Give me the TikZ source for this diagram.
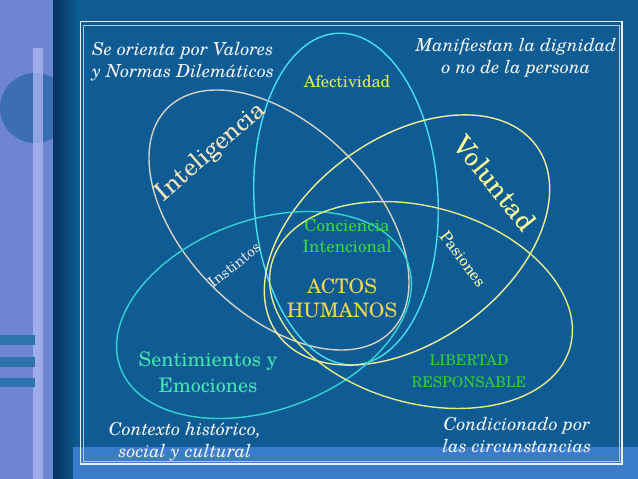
\documentclass[tikz,border=0pt]{standalone}
\usepackage{fontspec}
\setmainfont{TeX Gyre Schola}
\definecolor{mainblue}{HTML}{0F5C94}
\definecolor{stripcol}{HTML}{6E86D2}
\definecolor{circcol}{HTML}{3C6EB4}
\definecolor{barcol}{HTML}{B4BDF5}
\definecolor{tabcol}{HTML}{3C73B4}
\definecolor{smallbar}{HTML}{2E72AE}
\definecolor{darkband}{HTML}{06335C}
\definecolor{bandcol}{HTML}{3A7CCB}
\definecolor{frameout}{HTML}{E8F2FA}
\definecolor{framein}{HTML}{A8CCEB}
\definecolor{grayline}{HTML}{D8D2C4}
\definecolor{cyanline}{HTML}{45E0F0}
\definecolor{tealline}{HTML}{33D2D6}
\definecolor{volline}{HTML}{F0F095}
\definecolor{libline}{HTML}{E6EC88}
\definecolor{intcol}{HTML}{F3E4C0}
\definecolor{volcol}{HTML}{FFFF99}
\definecolor{afecol}{HTML}{E4EE50}
\definecolor{instcol}{HTML}{E2E2E2}
\definecolor{pascol}{HTML}{FFFFA6}
\definecolor{concol}{HTML}{3AD83A}
\definecolor{actcol}{HTML}{EED452}
\definecolor{sencol}{HTML}{45E2B2}
\definecolor{libcol}{HTML}{35CC35}
\definecolor{notecol}{HTML}{F4F4F4}
\begin{document}
\begin{tikzpicture}[x=1pt,y=-1pt,
  ell/.style={line width=1.4pt},
  lbl/.style={inner sep=0pt, align=center},
  note/.style={lbl, text=notecol, font=\fontsize{18}{22}\selectfont\itshape}]
\useasboundingbox (0,0) rectangle (638,479);
% background
\fill[mainblue] (0,0) rectangle (638,479);
\fill[stripcol] (0,0) rectangle (53,479);
\begin{scope}
  \clip (0,0) rectangle (53,479);
  \fill[circcol] (35,108) circle (35);
\end{scope}
\fill[barcol, opacity=0.7] (33,48) rectangle (43,479);
\fill[tabcol] (53,103) rectangle (68,112);
\fill[smallbar] (0,335) rectangle (35,345);
\fill[smallbar] (0,357) rectangle (35,367);
\fill[smallbar] (0,378) rectangle (35,387);
\shade[left color=darkband, right color=mainblue] (53,0) rectangle (78,479);
\fill[bandcol] (73,447) rectangle (638,479);
\draw[frameout, line width=1.3pt] (80.5,21.7) rectangle (622,464);
\draw[framein, line width=1pt] (83.5,25) rectangle (619.5,461.5);
% ellipses
\draw[ell, grayline] (279,220) ellipse [x radius=158, y radius=94, rotate=-45];
\draw[ell, cyanline] (346,199) ellipse [x radius=92, y radius=166, rotate=3];
\draw[ell, volline] (407,240) ellipse [x radius=160, y radius=102, rotate=36];
\draw[ell, tealline] (264,315) ellipse [x radius=153, y radius=95, rotate=20];
\draw[ell, libline] (421,305) ellipse [x radius=155, y radius=98, rotate=-16];
% notes
\node[note, anchor=west, align=left] (valores) at (92,62) {Se orienta por Valores\\y Normas Dilemáticos};
\node[note] (dignidad) at (516,58) {Manifiestan la dignidad\\o no de la persona};
\node[note] (contexto) at (185,442) {Contexto histórico,\\social y cultural};
\node[note] (condicion) at (517,435) {Condicionado por\\las circunstancias};
% labels
\node[lbl, text=afecol, font=\fontsize{16.5}{20}\selectfont] (afect) at (347,82) {Afectividad};
\node[lbl, text=intcol, font=\fontsize{25}{30}\selectfont, rotate=41] (intel) at (211,152) {Inteligencia};
\node[lbl, text=volcol, font=\fontsize{27}{32}\selectfont, rotate=-51] (volun) at (495,183) {Voluntad};
\node[lbl, text=instcol, font=\fontsize{15}{18}\selectfont, rotate=39] (instin) at (234,265) {Instintos};
\node[lbl, text=pascol, font=\fontsize{16}{19}\selectfont, rotate=-53] (pasion) at (463,259) {Pasiones};
\node[lbl, text=concol, font=\fontsize{17}{21}\selectfont] (concie) at (347,236) {Conciencia\\Intencional};
\node[lbl, text=actcol, font=\fontsize{20}{24}\selectfont] (actos) at (342,298) {ACTOS\\HUMANOS};
\node[lbl, text=sencol, font=\fontsize{20}{26}\selectfont] (sentim) at (208,372) {Sentimientos y\\Emociones};
\node[lbl, text=libcol, font=\fontsize{14.7}{22}\selectfont] (libert) at (469,371) {LIBERTAD\\RESPONSABLE};
\end{tikzpicture}
\end{document}
